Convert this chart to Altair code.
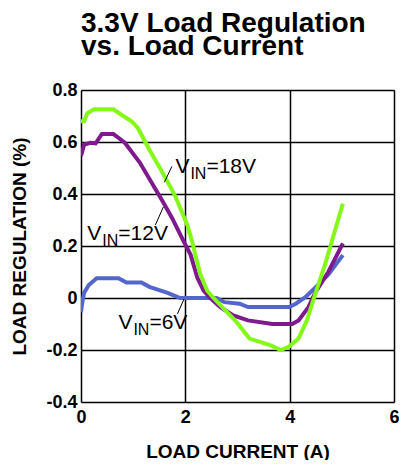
import altair as alt
import pandas as pd

# ---- data ----
x_6v = [0.0, 0.03, 0.06, 0.15, 0.3, 0.72, 0.87, 1.16, 1.31, 1.66, 1.9, 2.6, 2.75, 3.04, 3.2, 3.99, 4.11, 4.3, 4.49, 4.74, 5.02]
y_6v = [-0.055, -0.01, 0.02, 0.05, 0.076, 0.076, 0.06, 0.06, 0.043, 0.02, 0.0, 0.0, -0.016, -0.022, -0.035, -0.035, -0.023, 0.003, 0.04, 0.09, 0.165]

x_12v = [0.0, 0.06, 0.18, 0.28, 0.4, 0.62, 0.84, 1.13, 1.57, 1.75, 1.97, 2.1, 2.23, 2.35, 2.48, 2.67, 2.92, 3.2, 3.67, 4.05, 4.17, 4.36, 4.49, 4.74, 5.02]
y_12v = [0.546, 0.59, 0.597, 0.595, 0.631, 0.631, 0.597, 0.52, 0.37, 0.306, 0.217, 0.167, 0.078, 0.028, 0.0, -0.035, -0.067, -0.086, -0.1, -0.1, -0.086, -0.035, 0.02, 0.1, 0.21]

x_18v = [0.0, 0.06, 0.12, 0.25, 0.62, 0.81, 0.97, 1.09, 1.31, 1.57, 1.8, 2.04, 2.13, 2.19, 2.29, 2.42, 2.54, 2.73, 2.98, 3.23, 3.61, 3.83, 3.99, 4.17, 4.33, 4.49, 4.68, 5.02]
y_18v = [0.68, 0.68, 0.71, 0.726, 0.726, 0.70, 0.68, 0.654, 0.57, 0.48, 0.395, 0.28, 0.217, 0.167, 0.09, 0.028, 0.0, -0.04, -0.092, -0.156, -0.18, -0.2, -0.187, -0.156, -0.086, 0.015, 0.13, 0.363]

series_names = ["6V", "12V", "18V"]
series_colors = ["#5466CE", "#7E1A8E", "#84F818"]

x_ticks = [0, 2, 4, 6]
y_ticks = [-0.4, -0.2, 0, 0.2, 0.4, 0.6, 0.8]

# annotation labels (V / IN subscript / rest)
label_x = [1.81, 0.12, 0.717]
label_y = [0.48, 0.224, -0.118]
label_rest = ["=18V", "=12V", "=6V"]

# leader lines
lead_x1 = [1.742, 1.579, 1.849]
lead_y1 = [0.506, 0.350, -0.061]
lead_x2 = [1.598, 1.426, 1.975]
lead_y2 = [0.445, 0.281, -0.004]

FONT = "Liberation Sans"

rows = []
for name, xs, ys in [("6V", x_6v, y_6v), ("12V", x_12v, y_12v), ("18V", x_18v, y_18v)]:
    for i, (a, b) in enumerate(zip(xs, ys)):
        rows.append({"series": name, "order": i, "x": a, "y": b})
df = pd.DataFrame(rows)

lab = pd.DataFrame({"x": label_x, "y": label_y, "rest": label_rest})
lead = pd.DataFrame({"x": lead_x1, "y": lead_y1, "x2": lead_x2, "y2": lead_y2})

xscale = alt.Scale(domain=[0, 6], nice=False, zero=False)
yscale = alt.Scale(domain=[-0.4, 0.8], nice=False, zero=False)

xaxis = alt.Axis(
    values=x_ticks, title="LOAD CURRENT (A)", grid=True, gridColor="black", gridWidth=1.5,
    gridOpacity=1, domain=False, ticks=False, labelFont=FONT, labelFontSize=18,
    labelFontWeight="bold", labelColor="black", labelPadding=6, titleFont=FONT,
    titleFontSize=19, titleFontWeight="bold", titleColor="black", titlePadding=16,
    labelFlush=False,
)
yaxis = alt.Axis(
    values=y_ticks, title="LOAD REGULATION (%)", grid=True, gridColor="black", gridWidth=1.5,
    gridOpacity=1, domain=False, ticks=False, labelFont=FONT, labelFontSize=18,
    labelFontWeight="bold", labelColor="black", labelPadding=4, titleFont=FONT,
    titleFontSize=19, titleFontWeight="bold", titleColor="black", titlePadding=16,
    labelFlush=False,
    labelExpr="datum.value == 0 ? '0' : (datum.value < 0 ? '-' : '') + format(abs(datum.value), '.1f')",
)

lines = alt.Chart(df).mark_line(strokeWidth=4, clip=True).encode(
    x=alt.X("x:Q", scale=xscale, axis=xaxis),
    y=alt.Y("y:Q", scale=yscale, axis=yaxis),
    color=alt.Color("series:N", scale=alt.Scale(domain=series_names, range=series_colors), legend=None),
    order="order:Q",
    detail="series:N",
)

leaders = alt.Chart(lead).mark_rule(color="black", strokeWidth=1).encode(
    x="x:Q", y="y:Q", x2="x2:Q", y2="y2:Q"
)

base_text = alt.Chart(lab)
t_v = base_text.mark_text(align="left", baseline="alphabetic", font=FONT, fontSize=21, color="black").encode(
    x="x:Q", y="y:Q", text=alt.value("V")
)
t_in = base_text.mark_text(align="left", baseline="alphabetic", font=FONT, fontSize=16, color="black", dx=15, dy=6).encode(
    x="x:Q", y="y:Q", text=alt.value("IN")
)
t_rest = base_text.mark_text(align="left", baseline="alphabetic", font=FONT, fontSize=21, color="black", dx=31).encode(
    x="x:Q", y="y:Q", text="rest:N"
)

chart = alt.layer(lines, leaders, t_v, t_in, t_rest).properties(
    width=313, height=312,
    title=alt.TitleParams(
        text=["3.3V Load Regulation", "vs. Load Current"], anchor="start", frame="group",
        font=FONT, fontSize=28, fontWeight="bold", color="black", lineHeight=23, offset=20,
    ),
    autosize=alt.AutoSizeParams(type="none"),
    padding={"left": 73, "top": 82, "right": 5, "bottom": 58},
).configure_view(stroke="black", strokeWidth=2).configure(background="white")

chart.save("out.html", embed_options={"renderer": "svg", "actions": False})
